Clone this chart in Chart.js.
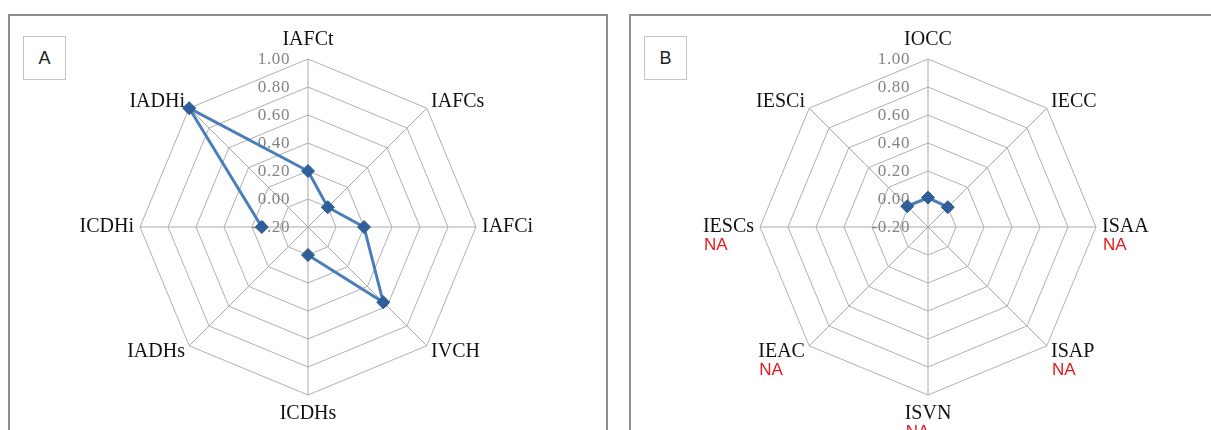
<!DOCTYPE html>
<html><head><meta charset="utf-8">
<script src="https://cdn.jsdelivr.net/npm/chart.js@4.4.1/dist/chart.umd.min.js"></script>
<style>
html,body{margin:0;padding:0;background:#fff;width:1211px;height:430px;overflow:hidden;position:relative}
.panel{position:absolute;top:14px;height:440px;border:2px solid #8e8e8e;box-sizing:border-box;background:#fff}
#pa{left:8px;width:600px}
#pb{left:629px;width:600px}
.tag{position:absolute;top:36px;width:43px;height:44px;border:1.5px solid #c4c4c4;box-sizing:border-box;font:18px 'Liberation Sans',Arial,sans-serif;color:#222;display:flex;align-items:center;justify-content:center;background:#fff}
.wrap{position:absolute;top:16px;height:414px;width:596px}
</style></head>
<body>
<div class="panel" id="pa"></div>
<div class="panel" id="pb"></div>
<div class="wrap" style="left:10px"><canvas id="ca"></canvas></div>
<div class="wrap" style="left:630px"><canvas id="cb"></canvas></div>
<div class="tag" style="left:23px">A</div>
<div class="tag" style="left:644px">B</div>
<script>
const labelsA = ['IAFCt','IAFCs','IAFCi','IVCH','ICDHs','IADHs','ICDHi','IADHi'];
const valuesA = [0.20, 0.00, 0.20, 0.56, 0.00, null, 0.13, 1.00];
const labelsB = ['IOCC','IECC','ISAA','ISAP','ISVN','IEAC','IESCs','IESCi'];
const valuesB = [0.01, 0.00, null, null, null, null, null, 0.01];
const naFlagsA = [false,false,false,false,false,false,false,false];
const naFlagsB = [false,false,true,true,true,true,true,false];
const tickValues = [-0.2, 0.0, 0.2, 0.4, 0.6, 0.8, 1.0];

const decor = {
  id: 'decor',
  beforeDatasetsDraw(chart) {
    const s = chart.scales.r, ctx = chart.ctx;
    ctx.save();
    ctx.font = '17px "Liberation Serif"';
    ctx.letterSpacing = '0.6px';
    ctx.fillStyle = '#848484';
    ctx.textAlign = 'right';
    ctx.textBaseline = 'middle';
    tickValues.forEach(v => {
      const d = s.getDistanceFromCenterForValue(v);
      ctx.fillText(v.toFixed(2), s.xCenter - 18, s.yCenter - d + 1);
    });
    ctx.restore();
  },
  afterDraw(chart, args, opts) {
    const s = chart.scales.r, ctx = chart.ctx;
    const labels = chart.data.labels;
    ctx.save();
    labels.forEach((lab, i) => {
      const ang = s.getIndexAngle(i);
      const sn = Math.sin(ang), cs = Math.cos(ang);
      const vertical = Math.abs(sn) < 0.01;
      const p = s.getPointPosition(i, s.drawingArea + (vertical ? 19 : 6));
      let x = p.x, y = p.y;
      if (!vertical) y += (cs > 0.01 ? -2 : (cs < -0.01 ? 2 : 0));
      ctx.textAlign = vertical ? 'center' : (sn > 0 ? 'left' : 'right');
      ctx.textBaseline = 'middle';
      ctx.font = '20px "Liberation Serif"';
      ctx.fillStyle = '#111';
      ctx.fillText(lab, x, y);
      if (opts.na && opts.na[i]) {
        const w = ctx.measureText(lab).width;
        const left = ctx.textAlign === 'left' ? x : (ctx.textAlign === 'right' ? x - w : x - w / 2);
        ctx.font = '17px "Liberation Sans"';
        ctx.fillStyle = '#e31a1c';
        ctx.textAlign = 'left';
        ctx.fillText('NA', left + 1, y + 18);
      }
    });
    ctx.restore();
  }
};

function makeChart(id, labels, values, na) {
  return new Chart(document.getElementById(id), {
    type: 'radar',
    data: {
      labels: labels,
      datasets: [{
        data: values,
        borderColor: '#4a7ebb',
        borderWidth: 3,
        pointStyle: 'rectRot',
        pointRadius: 6.5,
        pointBackgroundColor: '#2f5f9a',
        pointBorderColor: '#2a578f',
        pointBorderWidth: 1,
        fill: false,
        spanGaps: false,
        tension: 0
      }]
    },
    options: {
      responsive: true,
      maintainAspectRatio: false,
      animation: false,
      layout: { padding: { top: 43, bottom: 34, left: 0, right: 0 } },
      plugins: { legend: { display: false }, tooltip: { enabled: false }, decor: { na: na } },
      scales: {
        r: {
          min: -0.2, max: 1.0,
          ticks: { display: false, stepSize: 0.2 },
          grid: { color: '#b0b0b0', lineWidth: 1 },
          angleLines: { color: '#aaaaaa', lineWidth: 1 },
          pointLabels: { display: false }
        }
      }
    },
    plugins: [decor]
  });
}
makeChart('ca', labelsA, valuesA, naFlagsA);
makeChart('cb', labelsB, valuesB, naFlagsB);
</script>
</body></html>
